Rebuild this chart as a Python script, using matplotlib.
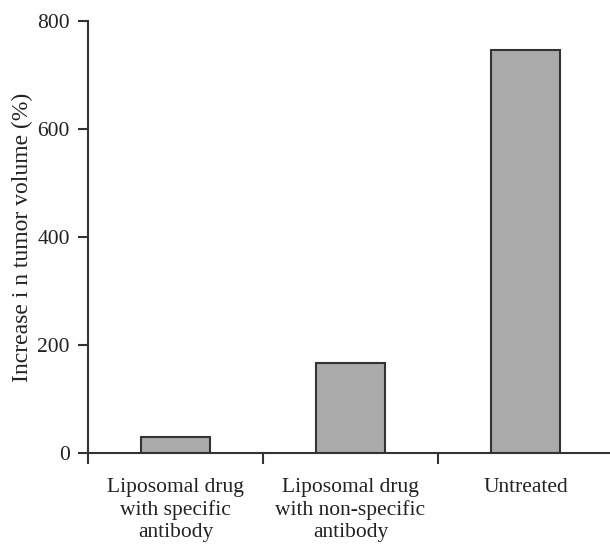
import matplotlib
matplotlib.use("Agg")
import matplotlib.pyplot as plt

categories = ["Liposomal drug\nwith specific\nantibody",
              "Liposomal drug\nwith non-specific\nantibody",
              "Untreated"]
values = [29, 167, 746]
yticks = [0, 200, 400, 600, 800]

plt.rcParams['font.family'] = ['Liberation Serif', 'DejaVu Serif']

fig = plt.figure(figsize=(6.1, 5.45), dpi=100)
ax = fig.add_axes([88/610, 92/545, 525/610, 432/545])

x = list(range(len(categories)))
ax.bar(x, values, width=0.39, color="#aaaaaa", edgecolor="#333333", linewidth=1.5, zorder=3)

ax.set_xlim(-0.5, 2.5)
ax.set_ylim(0, 800)
ax.set_yticks(yticks)
ax.set_yticklabels([str(v) for v in yticks], fontsize=15.5, color="#222222")

ax.set_xticks([-0.5, 0.5, 1.5, 2.5])
ax.set_xticklabels([])
ax.tick_params(axis='x', direction='out', length=8, width=1.5, color="#333333")
ax.tick_params(axis='y', direction='out', length=7, width=1.5, color="#333333", pad=6)
for i, c in enumerate(categories):
    ax.text(i, -0.057, c, transform=ax.get_xaxis_transform(), ha='center', va='top',
            fontsize=15.5, linespacing=1.23, color="#222222")

ax.spines['top'].set_visible(False)
ax.spines['right'].set_visible(False)
for s in ['left', 'bottom']:
    ax.spines[s].set_linewidth(1.5)
    ax.spines[s].set_color("#333333")
ax.spines['bottom'].set_clip_on(False)

ax.set_ylabel("Increase i n tumor volume (%)", fontsize=17, labelpad=3, color="#222222")

fig.savefig("out.png", dpi=100)
